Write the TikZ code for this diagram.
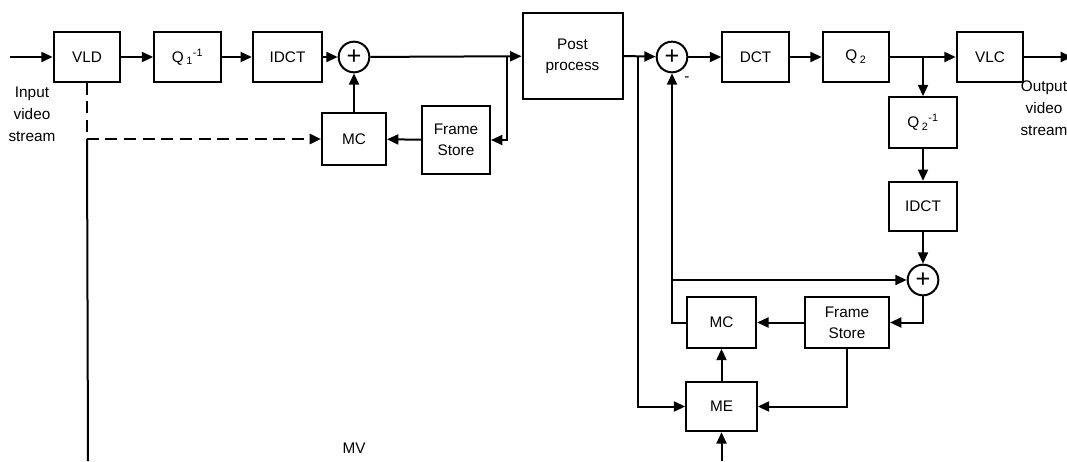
\documentclass[tikz,border=0pt]{standalone}
\usepackage{fontspec}
\setmainfont{Liberation Sans}
\usetikzlibrary{arrows.meta}

\begin{document}
\begin{tikzpicture}[x=0.75pt,y=-0.75pt]

    \tikzset{
      block/.style={
        draw,
        line width=1.5pt,
        minimum width=50pt,
        minimum height=37pt,
        inner sep=1pt,
        align=center,
        font=\fontsize{11.5}{16}\selectfont,
      },
      adder/.style={
        draw,
        circle,
        line width=1.5pt,
        minimum size=23pt,
        inner sep=0pt,
        font=\fontsize{19}{19}\selectfont,
      },
      wire/.style={line width=1.5pt},
      link/.style={wire, -{Triangle[length=8.5pt,width=7.5pt]}},
      mvlink/.style={link, line width=1.9pt, dash pattern=on 9pt off 5pt},
      txt/.style={align=center, font=\fontsize{11.5}{16.5}\selectfont},
    }
    \useasboundingbox (0,0) rectangle (1067,461);
    \clip (0,0) rectangle (1067,461);

    % decoder
    \node[block] (vld) at (87,57) {VLD};
    \node[block] (qinv1) at (187.5,57) {Q\,\textsubscript{1}\textsuperscript{-1}};
    \node[block, minimum width=52pt] (idct1) at (287.5,57) {IDCT};
    \node[adder] (sum1) at (354,57) {+};
    \node[block, minimum width=48pt, minimum height=39pt] (mc1) at (354,139) {MC};
    \node[block, minimum width=51pt, minimum height=51pt] (fs1) at (456,140) {Frame\\Store};
    \node[block, minimum width=75pt, minimum height=65pt] (post) at (572.5,56) {Post\\process};

    % encoder
    \node[adder] (sum2) at (672,57) {+};
    \node[block] (dct) at (755.5,57) {DCT};
    \node[block] (q2) at (856,57) {Q\,\textsubscript{2}};
    \node[block] (vlc) at (990,57) {VLC};
    \node[block, minimum width=51pt, minimum height=38pt] (qinv2) at (923,122.5) {Q\,\textsubscript{2}\textsuperscript{-1}};
    \node[block, minimum width=51pt] (idct2) at (923,206.5) {IDCT};
    \node[adder] (sum3) at (923,280) {+};
    \node[block, minimum width=52pt, minimum height=38pt] (mc2) at (721.5,322.5) {MC};
    \node[block, minimum width=63pt, minimum height=38pt] (fs2) at (847,322.5) {Frame\\Store};
    \node[block, minimum width=53pt] (me) at (721.5,406.5) {ME};

    % texts
    \node[txt] (intxt) at (32,114) {Input\\video\\stream};
    \node[txt] (outtxt) at (1044,108) {Output\\video\\stream};
    \node[txt] (mvtxt) at (354,448) {MV};
    \node[txt] (minus) at (687,79) {-};

    \coordinate (in) at (10,57);
    \coordinate (out) at (1072,57);
    \coordinate (tap1) at (507,57);
    \coordinate (tap2) at (638,57);
    \coordinate (tap3) at (923,57);
    \coordinate (mvturn) at (vld |- mc1.west);
    \coordinate (mvstart) at (88,461);
    \coordinate (mvend) at (721.5,461);

    \draw[link] (in) -- (vld);
    \draw[link] (vld) -- (qinv1);
    \draw[link] (qinv1) -- (idct1);
    \draw[link] (idct1) -- (sum1);
    \draw[link] (mc1) -- (sum1);
    \draw[link] (sum1) -- (post);
    \draw[link] (tap1) |- (fs1.east);
    \draw[link] (fs1) -- (mc1);
    \draw[mvlink] (vld.south) |- (mc1.west);
    \draw[wire] (mvturn) -- (mvstart);

    \draw[link] (post.east) -- (sum2);
    \draw[link] (sum2) -- (dct);
    \draw[link] (dct) -- (q2);
    \draw[link] (q2) -- (vlc);
    \draw[link] (vlc) -- (out);
    \draw[link] (tap3) -- (qinv2);
    \draw[link] (qinv2) -- (idct2);
    \draw[link] (idct2) -- (sum3);
    \draw[link] (sum3.south) |- (fs2.east);
    \draw[link] (fs2) -- (mc2);
    \draw[link] (mc2.west) -| (sum2.south);
    \draw[link] (sum2 |- sum3) -- (sum3.west);
    \draw[link] (tap2) |- (me.west);
    \draw[link] (fs2.south) |- (me.east);
    \draw[link] (me) -- (mc2);
    \draw[link] (mvend) -- (me.south);

\end{tikzpicture}
\end{document}
